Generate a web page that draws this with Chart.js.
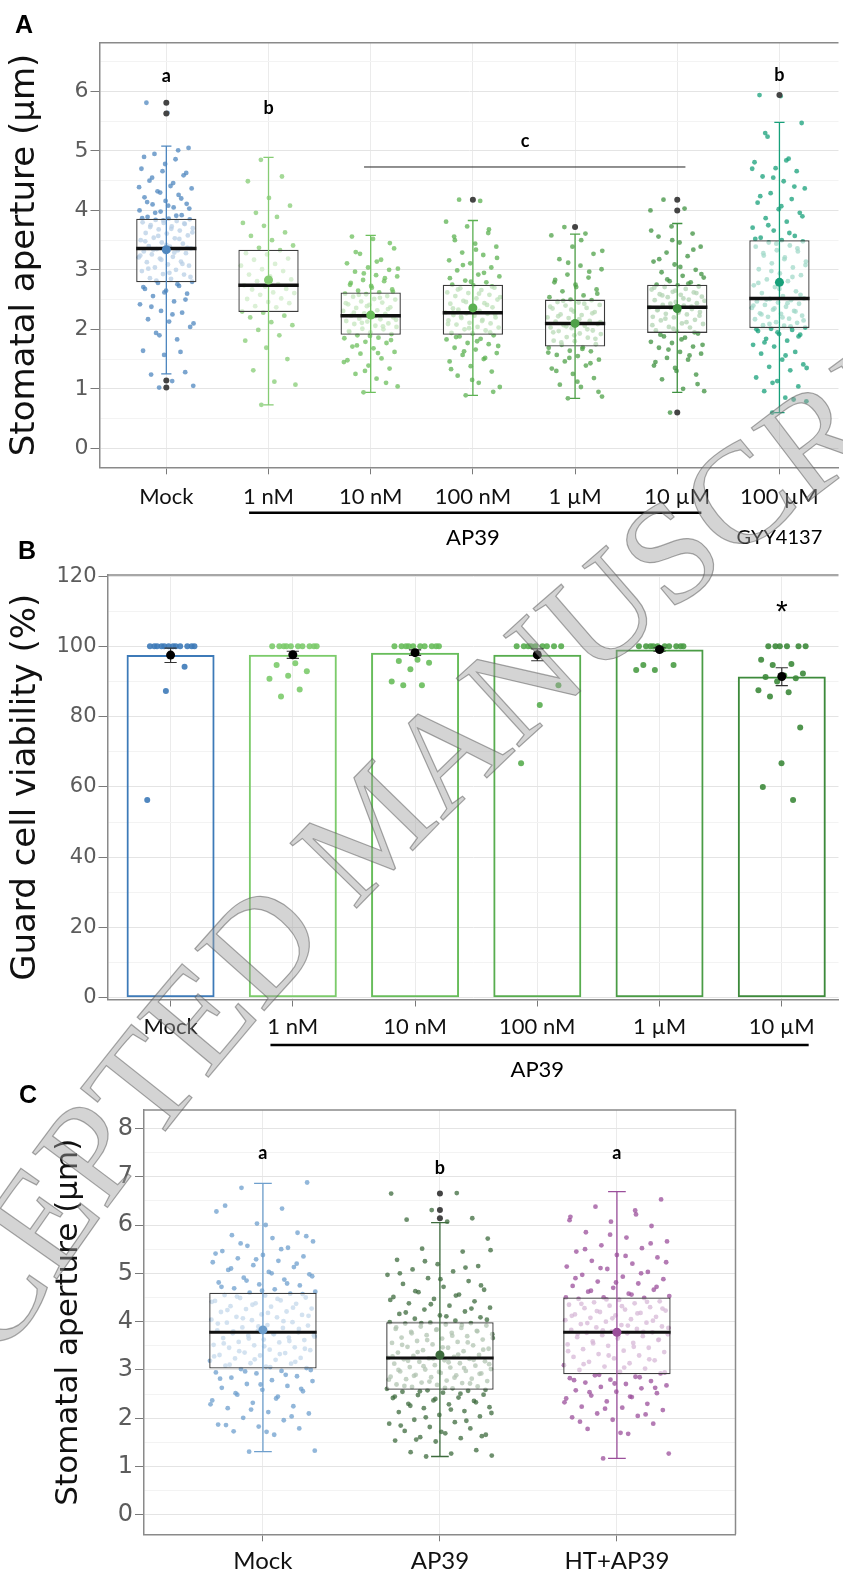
<!DOCTYPE html>
<html>
<head>
<meta charset="utf-8">
<title>Stomatal aperture and guard cell viability</title>
<script src="https://cdn.jsdelivr.net/npm/chart.js@4.4.1/dist/chart.umd.min.js"></script>
<style>
  body { margin: 0; background: #fff; }
  #page { position: relative; width: 843px; height: 1579px; overflow: hidden; background: #fff; }
  #page canvas { position: absolute; left: 0; }
  .panel { position: absolute; font: bold 25px 'Liberation Sans', Arial, sans-serif; color: #000; }
  #wm { position: absolute; left: 0; top: 0; pointer-events: none; }
</style>
</head>
<body>
<div id="page">
  <canvas id="chartA" width="843" height="560" style="top:0"></canvas>
  <canvas id="chartB" width="843" height="540" style="top:545px"></canvas>
  <canvas id="chartC" width="843" height="504" style="top:1075px"></canvas>
  <div class="panel" style="left:15px;top:10px">A</div>
  <div class="panel" style="left:18px;top:536px">B</div>
  <div class="panel" style="left:19px;top:1080px">C</div>
  <svg id="wm" width="843" height="1579" viewBox="0 0 843 1579">
    <defs><path id="wmPath" d="M -189 1561 L -9 1381 Q 350 800 1071 311 L 1271 161"/></defs>
    <text font-family="'Liberation Serif', serif" font-size="142" fill="rgba(160,160,160,0.45)" stroke="rgba(85,85,85,0.5)" stroke-width="1.2"><textPath href="#wmPath" startOffset="80">ACCEPTED MANUSCRIPT</textPath></text>
  </svg>
</div>
<script>
// ---------- Panel A: stomatal aperture, AP39 dose series + GYY4137 ----------
const catsA = ['Mock', '1 nM', '10 nM', '100 nM', '1 µM', '10 µM', '100 µM'];
const q1A = [2.79, 2.29, 1.91, 1.91, 1.71, 1.94, 2.02];
const medA = [3.36, 2.74, 2.23, 2.28, 2.10, 2.37, 2.52];
const q3A = [3.86, 3.34, 2.62, 2.75, 2.50, 2.75, 3.50];
const loA = [1.25, 0.73, 0.94, 0.89, 0.84, 0.94, 0.60];
const hiA = [5.08, 4.89, 3.58, 3.83, 3.60, 3.78, 5.48];
const meanA = [3.34, 2.83, 2.24, 2.36, 2.10, 2.35, 2.79];
const outA = [[5.81, 5.63, 1.14, 1.02], [], [], [4.18], [3.72], [4.18, 4.0, 0.6], [5.94]];
const ptsA = [
  [1.02,1.05,1.13,1.24,1.28,1.57,1.64,1.83,1.94,2.04,2.13,2.17,2.28,2.31,2.42,2.47,2.56,2.6,2.65,2.68,2.73,2.78,
   2.8,2.85,2.86,2.92,2.93,2.98,3.0,3.04,3.07,3.09,3.13,3.14,3.19,3.21,3.22,3.26,3.28,3.3,3.31,3.33,3.35,3.36,
   3.39,3.4,3.44,3.46,3.5,3.53,3.54,3.58,3.61,3.62,3.66,3.68,3.7,3.73,3.75,3.77,3.79,3.8,3.82,3.84,3.85,3.86,
   3.89,3.92,3.98,4.0,4.05,4.1,4.11,4.16,4.22,4.26,4.32,4.37,4.41,4.5,4.59,4.66,4.7,4.86,4.95,5.05,5.64,5.81,
   1.62,1.9,2.1,2.25,2.38,2.5,2.62,2.71,2.76,2.82,2.88,2.95,3.02,3.1,3.17,3.24,3.29,3.34,
   3.37,3.42,3.48,3.52,3.57,3.63,3.69,3.72,3.78,3.83,3.87,
   3.91,3.96,4.03,4.08,4.14,4.2,4.3,4.39,4.46,4.55,4.63,4.78,4.9,5.01],
  [0.73,1.07,1.12,1.31,1.5,1.69,1.81,1.9,1.99,2.07,2.12,2.2,2.23,2.28,
   2.3,2.37,2.39,2.44,2.46,2.51,2.52,2.58,2.61,2.62,2.67,2.68,2.72,2.74,
   2.76,2.81,2.84,2.89,2.92,2.98,3.01,3.07,3.1,3.17,3.19,3.26,3.28,3.33,
   3.37,3.41,3.5,3.57,3.63,3.74,3.79,3.89,3.96,4.08,4.21,4.49,4.57,4.85],
  [0.94,1.04,1.17,1.25,1.34,1.39,1.48,1.51,1.59,1.62,1.68,1.71,1.77,1.79,1.85,1.86,1.9,
   1.92,1.95,1.96,2.0,2.01,2.04,2.06,2.09,2.1,2.13,2.14,2.17,2.18,2.2,2.21,2.23,
   2.26,2.27,2.31,2.32,2.36,2.37,2.41,2.42,2.45,2.47,2.5,2.51,2.55,2.56,2.59,2.6,2.62,
   2.65,2.67,2.73,2.75,2.81,2.83,2.89,2.91,2.97,3.0,3.04,3.11,3.17,3.27,3.36,3.52,3.56,
   1.1,1.3,1.45,1.6,1.73,1.82,1.89,1.97,2.05,2.11,2.16,2.22,2.28,2.34,2.39,2.44,2.53,2.58,2.63,2.7,2.78,2.86,2.94,3.02,3.14,3.3,3.45],
  [0.89,1.03,1.1,1.22,1.29,1.38,1.46,1.5,1.57,1.6,1.66,1.69,1.75,1.77,1.83,1.84,1.88,1.9,
   1.93,1.94,1.98,2.0,2.03,2.04,2.08,2.1,2.11,2.15,2.16,2.19,2.2,2.23,2.24,2.26,2.27,2.28,
   2.31,2.33,2.37,2.38,2.43,2.44,2.48,2.5,2.52,2.56,2.58,2.61,2.62,2.66,2.69,2.7,2.74,2.75,
   2.79,2.82,2.89,2.92,2.99,3.04,3.11,3.16,3.25,3.29,3.39,3.44,3.56,3.62,3.73,3.81,4.16,4.18,
   0.95,1.15,1.33,1.52,1.63,1.72,1.8,1.87,1.95,2.02,2.09,2.14,2.21,2.25,2.3,2.35,2.41,2.46,2.54,2.6,2.67,2.72,2.8,2.86,2.95,3.08,3.2,3.34,3.5,3.68],
  [0.84,0.87,1.03,1.07,1.18,1.25,1.34,1.39,1.46,1.49,1.55,1.57,1.63,1.64,1.69,1.7,
   1.74,1.75,1.8,1.81,1.86,1.87,1.92,1.93,1.97,1.98,2.02,2.03,2.06,2.07,2.09,2.1,
   2.13,2.14,2.19,2.2,2.24,2.25,2.29,2.3,2.35,2.36,2.4,2.41,2.45,2.46,2.49,2.5,
   2.54,2.57,2.64,2.67,2.75,2.79,2.87,2.92,3.01,3.07,3.18,3.27,3.39,3.58,3.61,3.72,
   0.95,1.12,1.3,1.43,1.52,1.61,1.67,1.78,1.84,1.9,1.95,2.0,2.05,2.12,2.17,2.22,2.27,2.33,2.38,2.43,2.48,2.6,2.71,2.83,2.97,3.12,3.32,3.5],
  [0.6,0.96,1.0,1.16,1.24,1.35,1.39,1.49,1.52,1.59,1.62,1.69,1.71,1.77,1.79,1.86,1.88,1.93,
   1.97,1.98,2.03,2.04,2.09,2.1,2.15,2.16,2.2,2.21,2.25,2.26,2.29,2.3,2.33,2.34,2.36,2.37,
   2.4,2.41,2.44,2.46,2.49,2.5,2.54,2.55,2.58,2.59,2.62,2.63,2.67,2.68,2.71,2.72,2.74,2.75,
   2.79,2.81,2.87,2.9,2.96,3.0,3.09,3.14,3.23,3.29,3.39,3.46,3.56,3.61,3.73,4.0,4.03,4.18,
   1.08,1.3,1.45,1.56,1.66,1.74,1.83,1.91,1.95,2.01,2.07,2.12,2.18,2.23,2.28,2.32,2.38,2.43,2.48,2.52,2.57,2.61,2.65,2.7,2.77,2.84,2.93,3.05,3.18,3.34,3.5,3.66],
  [0.6,0.79,0.85,0.96,1.04,1.13,1.19,1.31,1.37,1.41,1.49,1.59,1.62,1.71,1.74,1.81,1.84,1.91,1.92,1.97,1.99,2.01,
   2.03,2.06,2.07,2.11,2.12,2.17,2.18,2.21,2.23,2.26,2.27,2.31,2.33,2.36,2.38,2.41,2.43,2.45,2.47,2.49,2.51,2.52,
   2.56,2.61,2.64,2.71,2.74,2.81,2.84,2.91,2.94,3.01,3.04,3.11,3.14,3.21,3.24,3.31,3.33,3.39,3.41,3.46,3.48,3.5,
   3.54,3.57,3.66,3.71,3.81,3.87,3.96,4.02,4.13,4.19,4.29,4.37,4.49,4.57,4.66,4.71,4.81,4.87,5.24,5.47,5.92,5.94,
   0.82,1.1,1.35,1.56,1.78,1.88,1.95,2.0,2.05,2.09,2.15,2.2,2.25,2.3,2.35,2.4,2.44,2.5,
   2.58,2.68,2.78,2.88,2.98,3.08,3.18,3.28,3.36,3.44,
   3.52,3.62,3.75,3.9,4.07,4.24,4.4,4.55,4.7,4.84,5.3]
];
const yTicksA = [0, 1, 2, 3, 4, 5, 6];
const lettersA = ['a', 'b', 'c', 'b'];
const letterXA = [0, 1, 3.51, 6];
const letterYA = [6.26, 5.72, 5.17, 6.28];
const bracketXA = [1.935, 5.08];
const bracketYA = 4.73;

// ---------- Panel B: guard cell viability ----------
const catsB = ['Mock', '1 nM', '10 nM', '100 nM', '1 µM', '10 µM'];
const meanB = [97.5, 97.6, 98.2, 97.6, 99.1, 91.4];
const seLoB = [95.4, 96.6, 97.4, 95.9, 98.6, 88.8];
const seHiB = [99.5, 98.6, 99.0, 99.3, 99.6, 93.9];
const ptsB = [
  [100,100,100,100,100,100,100,100,100,100,100,100,94.2,87.3,56.3],
  [100,100,100,100,100,100,100,100,100,100,95.2,94.7,92.9,91.6,90.8,87.7,85.7],
  [100,100,100,100,100,100,100,100,100,100,96.2,95.8,95.3,93.5,90.0,88.9,88.9],
  [100,100,100,100,100,100,100,100,100,88.9,83.3,66.7],
  [100,100,100,100,100,100,100,100,100,100,99.0,94.7,94.7,93.3,93.3],
  [100,100,100,100,100,100,96.2,95.0,94.7,92.3,91.7,91.3,90.9,90.0,87.5,86.9,85.7,76.9,66.7,60.0,56.3]
];
const yTicksB = [0, 20, 40, 60, 80, 100, 120];

// ---------- Panel C: stomatal aperture, Mock / AP39 / HT+AP39 ----------
const catsC = ['Mock', 'AP39', 'HT+AP39'];
const q1C = [3.03, 2.59, 2.91];
const medC = [3.78, 3.25, 3.78];
const q3C = [4.60, 3.99, 4.50];
const loC = [1.31, 1.21, 1.17];
const hiC = [6.86, 6.05, 6.69];
const meanC = [3.83, 3.31, 3.78];
const outC = [[], [6.65, 6.31, 6.14], []];
const ptsC = [
  [1.31,1.33,1.66,1.73,1.79,1.83,1.87,1.96,2.01,2.1,2.13,2.21,2.25,2.32,2.37,2.45,2.49,2.56,2.59,2.63,2.67,2.71,2.77,2.79,2.84,2.87,2.93,2.95,2.98,3.02,
   3.04,3.07,3.09,3.13,3.14,3.19,3.21,3.24,3.25,3.3,3.31,3.35,3.36,3.41,3.42,3.46,3.47,3.51,3.52,3.57,3.58,3.62,3.63,3.66,3.67,3.71,3.72,3.75,3.76,3.78,
   3.81,3.82,3.87,3.88,3.92,3.93,3.98,3.99,4.03,4.04,4.09,4.1,4.14,4.15,4.2,4.21,4.26,4.27,4.31,4.32,4.37,4.38,4.43,4.44,4.49,4.5,4.54,4.55,4.58,4.6,
   4.62,4.67,4.69,4.75,4.77,4.81,4.87,4.91,4.98,5.03,5.07,5.13,5.17,5.23,5.26,5.31,5.35,5.38,5.46,5.53,5.57,5.66,5.73,5.79,5.84,6.03,6.28,6.34,6.77,6.88,
   1.72,1.86,2.04,2.18,2.29,2.41,2.52,2.61,2.7,2.82,2.9,2.97,3.0,
   3.06,3.11,3.17,3.22,3.28,3.33,3.39,3.44,3.49,3.55,3.6,3.65,3.69,3.74,
   3.8,3.85,3.9,3.96,4.01,4.07,4.12,4.18,4.24,4.29,4.35,4.41,4.47,4.52,4.57,
   4.64,4.72,4.79,4.85,4.94,5.0,5.1,5.2,5.29,5.41,5.5,5.62,5.77,6.0,6.4],
  [1.21,1.23,1.27,1.3,1.34,1.52,1.54,1.59,1.61,1.66,1.69,1.74,1.79,1.82,1.89,1.92,1.97,2.04,2.07,2.13,2.15,2.21,2.23,2.29,2.3,2.36,2.37,2.42,2.43,2.48,2.49,2.53,2.55,2.57,2.58,
   2.61,2.62,2.65,2.66,2.69,2.7,2.73,2.74,2.77,2.78,2.81,2.82,2.85,2.86,2.89,2.9,2.93,2.94,2.97,2.98,3.01,3.02,3.05,3.06,3.09,3.1,3.13,3.14,3.17,3.18,3.2,3.22,3.23,3.24,3.25,
   3.27,3.29,3.31,3.34,3.36,3.39,3.41,3.44,3.46,3.48,3.51,3.53,3.56,3.58,3.6,3.63,3.65,3.67,3.7,3.72,3.74,3.77,3.79,3.81,3.83,3.85,3.87,3.9,3.92,3.94,3.96,3.97,3.98,3.99,
   4.02,4.06,4.09,4.13,4.16,4.21,4.25,4.29,4.33,4.38,4.42,4.47,4.51,4.56,4.61,4.66,4.72,4.78,4.84,4.9,4.97,5.04,5.08,5.15,5.19,5.28,5.45,5.51,5.72,6.07,6.11,6.14,6.31,6.65,6.66,
   1.56,1.63,1.72,1.85,1.95,2.02,2.11,2.18,2.26,2.33,2.4,2.45,2.51,2.56,2.59,
   2.63,2.67,2.72,2.76,2.8,2.84,2.88,2.92,2.96,3.0,3.04,3.08,3.12,3.16,3.19,3.21,3.24,
   3.28,3.32,3.37,3.42,3.47,3.52,3.57,3.62,3.66,3.71,3.76,3.8,3.84,3.88,3.93,3.97,
   4.04,4.11,4.19,4.27,4.36,4.45,4.54,4.63,4.75,4.88,5.0,5.12,5.25,5.48],
  [1.17,1.27,1.68,1.78,1.89,1.97,2.02,2.05,2.1,2.17,2.22,2.24,2.3,2.35,2.41,2.44,2.47,2.52,2.55,2.58,2.62,2.65,2.68,2.71,2.74,2.77,2.8,2.83,2.86,2.89,
   2.93,2.96,3.0,3.03,3.07,3.1,3.14,3.17,3.2,3.24,3.27,3.3,3.33,3.37,3.4,3.43,3.46,3.5,3.53,3.56,3.59,3.62,3.65,3.68,3.7,3.72,3.74,3.76,3.77,3.78,
   3.8,3.83,3.85,3.88,3.9,3.93,3.95,3.98,4.0,4.03,4.05,4.08,4.1,4.13,4.15,4.18,4.2,4.23,4.25,4.28,4.3,4.33,4.35,4.38,4.4,4.42,4.45,4.47,4.49,4.5,
   4.53,4.58,4.62,4.66,4.7,4.74,4.79,4.83,4.88,4.93,4.97,5.03,5.09,5.14,5.2,5.26,5.33,5.38,5.45,5.52,5.58,5.66,5.74,5.85,5.98,6.07,6.17,6.22,6.38,6.53,
   1.7,1.93,2.08,2.2,2.33,2.45,2.54,2.63,2.72,2.79,2.85,2.9,
   2.95,3.05,3.12,3.22,3.3,3.39,3.48,3.55,3.63,3.7,3.75,3.79,
   3.82,3.87,3.92,3.97,4.02,4.07,4.12,4.17,4.22,4.27,4.32,4.37,4.41,4.46,4.5,
   4.56,4.64,4.72,4.81,4.9,5.0,5.11,5.23,5.36,5.5,5.62,5.8,6.1,6.3]
];
const yTicksC = [0, 1, 2, 3, 4, 5, 6, 7, 8];
const lettersC = ['a', 'b', 'a'];
const letterYC = [7.49, 7.17, 7.49];

// colours
const colA = ['#4f87bf', '#86cc74', '#6cbf5c', '#5cb152', '#4fa148', '#3f9140', '#17a07a'];
const colB = ['#3d7ab8', '#7ccb6b', '#68bd5b', '#58ad4f', '#4a9c45', '#3d8a3b'];
const colC = ['#6e9fcd', '#3d6b3d', '#9b4f9b'];

Chart.defaults.font.family = 'Lato, sans-serif';

function alpha(hex, a) {
  const n = parseInt(hex.slice(1), 16);
  return 'rgba(' + (n >> 16) + ',' + ((n >> 8) & 255) + ',' + (n & 255) + ',' + a + ')';
}
// horizontal jitter, spread evenly by index
function jit(k, w) { return (((k * 0.618034 + 0.37) % 1) - 0.5) * 2 * w; }

function boxSets(d) {
  const sets = [];
  const hw = d.bw / 2;
  d.pts.forEach((vals, g) => sets.push({
    type: 'scatter', order: 9,
    data: vals.map((v, k) => ({ x: g + jit(k, d.jw), y: v })),
    pointRadius: 2.4, pointBorderWidth: 0, pointBackgroundColor: alpha(d.col[g], 0.75)
  }));
  sets.push({
    type: 'bar', order: 8,
    data: d.cats.map((c, i) => ({ x: i, y: [d.q1[i], d.q3[i]] })),
    backgroundColor: 'rgba(255,255,255,0.6)', borderColor: '#3c3c3c', borderWidth: 1.3,
    borderSkipped: false, barPercentage: d.bw, categoryPercentage: 1
  });
  d.cats.forEach((c, i) => sets.push({
    type: 'line', order: 7, pointRadius: 0, borderColor: d.col[i], borderWidth: 1.3,
    data: [{ x: i - 0.05, y: d.hi[i] }, { x: i + 0.05, y: d.hi[i] }, { x: i, y: null },
           { x: i, y: d.hi[i] }, { x: i, y: d.lo[i] }, { x: i, y: null },
           { x: i - 0.05, y: d.lo[i] }, { x: i + 0.05, y: d.lo[i] }]
  }));
  sets.push({
    type: 'line', order: 6, pointRadius: 0, borderColor: '#111', borderWidth: d.medW,
    data: d.cats.flatMap((c, i) => [{ x: i - hw, y: d.med[i] }, { x: i + hw, y: d.med[i] }, { x: i, y: null }])
  });
  sets.push({
    type: 'scatter', order: 5, pointRadius: 4.5, pointBorderWidth: 0, pointBackgroundColor: d.col,
    data: d.cats.map((c, i) => ({ x: i, y: d.mean[i] }))
  });
  sets.push({
    type: 'scatter', order: 4, pointRadius: 3, pointBorderWidth: 0, pointBackgroundColor: '#444',
    data: d.out.flatMap((arr, i) => arr.map(v => ({ x: i, y: v })))
  });
  return sets;
}

function xAxis(cats, min, max, h, size, pad) {
  return {
    type: 'linear', min: min, max: max, offset: false,
    afterBuildTicks: s => { s.ticks = cats.map((c, i) => ({ value: i })); },
    afterFit: s => { s.height = h; },
    ticks: { callback: v => cats[Math.round(v)], font: { family: 'Lato', size: size }, color: '#111',
             padding: pad, autoSkip: false, maxRotation: 0 },
    grid: { offset: false, color: '#ebebeb', tickColor: '#7a7a7a', tickLength: 7, lineWidth: 1 },
    border: { display: true, color: '#8a8a8a', width: 1.5 }
  };
}

function yAxis(major, min, max, w, title, tSize, tPad, size) {
  return {
    type: 'linear', min: min, max: max,
    afterBuildTicks: s => {
      const t = [];
      major.forEach((v, i) => {
        t.push({ value: v });
        const nxt = i < major.length - 1 ? major[i + 1] : v + (v - major[i - 1]);
        const mid = (v + nxt) / 2;
        if (mid <= max) t.push({ value: mid });
      });
      s.ticks = t;
    },
    afterFit: s => { s.width = w; },
    ticks: { callback: v => major.includes(v) ? String(v) : '', font: { family: 'DejaVu Sans', size: size },
             color: '#5c5c5c', padding: 2, autoSkip: false },
    grid: {
      color: c => major.includes(c.tick.value) ? '#e4e4e4' : '#f3f3f3',
      tickColor: c => major.includes(c.tick.value) ? '#7a7a7a' : 'rgba(0,0,0,0)',
      tickLength: 9, lineWidth: 1
    },
    border: { display: true, color: '#8a8a8a', width: 1.5 },
    title: { display: true, text: title, color: '#111', font: { family: 'DejaVu Sans', size: tSize },
             padding: { top: tPad, bottom: 0 } }
  };
}

function frame(right) {
  return {
    id: 'frame',
    afterDraw(c) {
      const a = c.chartArea, ctx = c.ctx;
      ctx.save();
      ctx.strokeStyle = '#8a8a8a';
      ctx.lineWidth = 1.5;
      ctx.beginPath();
      ctx.moveTo(a.left, a.top);
      ctx.lineTo(a.right, a.top);
      if (right) ctx.lineTo(a.right, a.bottom);
      ctx.stroke();
      ctx.restore();
    }
  };
}

// letters above the groups and the group captions under the axis
function notes(letters, lx, ly, font, under) {
  return {
    id: 'notes',
    afterDraw(c) {
      const ctx = c.ctx, x = c.scales.x, y = c.scales.y;
      ctx.save();
      ctx.textAlign = 'center';
      ctx.textBaseline = 'middle';
      ctx.fillStyle = '#000';
      ctx.font = font;
      letters.forEach((t, i) => ctx.fillText(t, x.getPixelForValue(lx[i]), y.getPixelForValue(ly[i])));
      under.forEach(u => {
        if (u.from !== undefined) {
          ctx.strokeStyle = '#000';
          ctx.lineWidth = 2.5;
          ctx.beginPath();
          ctx.moveTo(x.getPixelForValue(u.from), u.py);
          ctx.lineTo(x.getPixelForValue(u.to), u.py);
          ctx.stroke();
        } else {
          ctx.font = u.font;
          ctx.fillText(u.text, x.getPixelForValue(u.at), u.py);
        }
      });
      ctx.restore();
    }
  };
}

const common = {
  responsive: false, animation: false, events: [],
  plugins: { legend: { display: false }, tooltip: { enabled: false } }
};

// ---- chart A ----
const setsA = boxSets({ cats: catsA, pts: ptsA, q1: q1A, med: medA, q3: q3A, lo: loA, hi: hiA,
  mean: meanA, out: outA, col: colA, bw: 0.59, jw: 0.27, medW: 3.5 });
setsA.push({ type: 'line', order: 3, pointRadius: 0, borderColor: '#222', borderWidth: 1,
  data: bracketXA.map(v => ({ x: v, y: bracketYA })) });

new Chart(document.getElementById('chartA'), {
  type: 'scatter',
  data: { datasets: setsA },
  options: Object.assign({}, common, {
    layout: { padding: { top: 42.7, left: 0, right: 0, bottom: 0 } },
    scales: {
      x: xAxis(catsA, -0.654, 6.578, 92.7, 22, 9),
      y: yAxis(yTicksA, -0.32, 6.82, 99.5, 'Stomatal aperture (µm)', 34, 5, 22)
    }
  }),
  plugins: [frame(false), notes(lettersA, letterXA, letterYA, 'bold 18px Lato', [
    { from: 0.81, to: 5.236, py: 512.7 },
    { text: 'AP39', at: 3.0, py: 537.7, font: '22px Lato' },
    { text: 'GYY4137', at: 6.0, py: 537.7, font: '20px Lato' }
  ])]
});

// ---- chart B ----
const setsB = [];
ptsB.forEach((vals, g) => setsB.push({
  type: 'scatter', order: 5, pointRadius: 3, pointBorderWidth: 0, pointBackgroundColor: alpha(colB[g], 0.9),
  data: vals.map((v, k) => ({ x: g + jit(k, 0.2), y: v }))
}));
setsB.push({
  type: 'bar', order: 6, data: catsB.map((c, i) => ({ x: i, y: meanB[i] })),
  backgroundColor: 'rgba(255,255,255,0)', borderColor: colB, borderWidth: 2,
  borderSkipped: false, barPercentage: 0.72, categoryPercentage: 1
});
catsB.forEach((c, i) => setsB.push({
  type: 'line', order: 2, pointRadius: 0, borderColor: '#333', borderWidth: 1.2,
  data: [{ x: i - 0.05, y: seHiB[i] }, { x: i + 0.05, y: seHiB[i] }, { x: i, y: null },
         { x: i, y: seHiB[i] }, { x: i, y: seLoB[i] }, { x: i, y: null },
         { x: i - 0.05, y: seLoB[i] }, { x: i + 0.05, y: seLoB[i] }]
}));
setsB.push({
  type: 'scatter', order: 0, pointRadius: 4.5, pointBorderWidth: 0, pointBackgroundColor: '#000',
  data: catsB.map((c, i) => ({ x: i, y: meanB[i] }))
});

new Chart(document.getElementById('chartB'), {
  type: 'scatter',
  data: { datasets: setsB },
  options: Object.assign({}, common, {
    layout: { padding: { top: 30, left: 0, right: 0, bottom: 0 } },
    scales: {
      x: xAxis(catsB, -0.516, 5.464, 85.5, 22, 7),
      y: yAxis(yTicksB, -0.5, 120.3, 107.5, 'Guard cell viability (%)', 34, 6, 21)
    }
  }),
  plugins: [frame(false), notes(['*'], [5], [109.5], '30px "Liberation Sans"', [
    { from: 0.817, to: 5.22, py: 500 },
    { text: 'AP39', at: 3.0, py: 525, font: '22px Lato' }
  ])]
});

// ---- chart C ----
const setsC = boxSets({ cats: catsC, pts: ptsC, q1: q1C, med: medC, q3: q3C, lo: loC, hi: hiC,
  mean: meanC, out: outC, col: colC, bw: 0.607, jw: 0.3, medW: 3 });

new Chart(document.getElementById('chartC'), {
  type: 'scatter',
  data: { datasets: setsC },
  options: Object.assign({}, common, {
    layout: { padding: { top: 35, left: 0, right: 107.5, bottom: 0 } },
    scales: {
      x: xAxis(catsC, -0.672, 2.670, 44.7, 24, 6),
      y: yAxis(yTicksC, -0.40, 8.38, 144, 'Stomatal aperture (µm)', 31, 50, 24)
    }
  }),
  plugins: [frame(true), notes(lettersC, [0, 1, 2], letterYC, 'bold 18px Lato', [])]
});
</script>
</body>
</html>
